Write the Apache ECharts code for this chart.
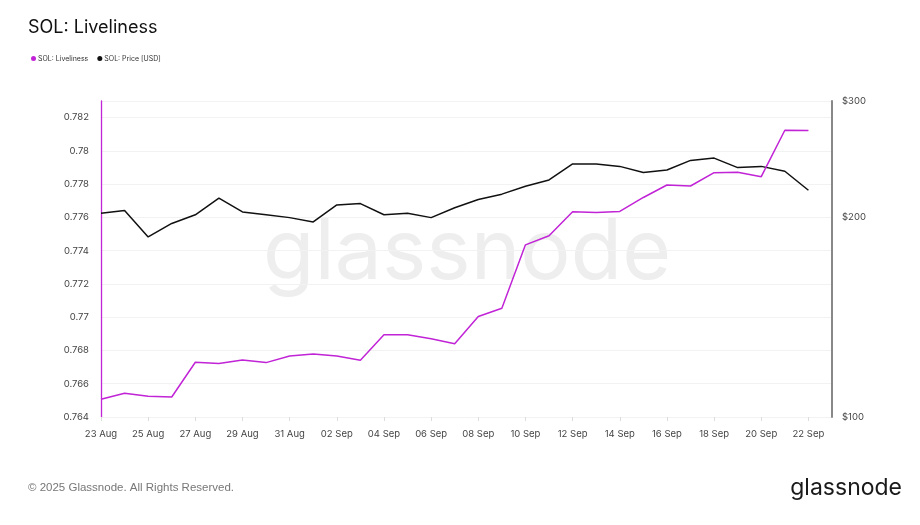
<!DOCTYPE html>
<html>
<head>
    <meta charset="utf-8">
    <title>SOL: Liveliness</title>
    <script src="https://cdn.jsdelivr.net/npm/echarts@6/dist/echarts.min.js"></script>
    <style>
        body { margin: 0; background: #fff; }
    </style>
</head>
<body>
    <div id="main" style="width: 920px;height:525px;"></div>
    <script type="text/javascript">
        // daily dates, plus one trailing empty slot so the axis runs past 22 Sep
        var dates = ['23 Aug', '24 Aug', '25 Aug', '26 Aug', '27 Aug', '28 Aug', '29 Aug', '30 Aug', '31 Aug',
            '01 Sep', '02 Sep', '03 Sep', '04 Sep', '05 Sep', '06 Sep', '07 Sep', '08 Sep', '09 Sep', '10 Sep',
            '11 Sep', '12 Sep', '13 Sep', '14 Sep', '15 Sep', '16 Sep', '17 Sep', '18 Sep', '19 Sep', '20 Sep',
            '21 Sep', '22 Sep', '23 Sep'];
        var liveliness = [0.76507, 0.76543, 0.76525, 0.76520, 0.76729, 0.76721, 0.76743, 0.76727, 0.76767,
            0.76779, 0.76767, 0.76741, 0.76894, 0.76895, 0.76871, 0.76841, 0.77004, 0.77054, 0.77435,
            0.77490, 0.77634, 0.77630, 0.77636, 0.77720, 0.77795, 0.77789, 0.77869, 0.77871, 0.77845,
            0.78124, 0.78122];
        var price = [203, 205, 187, 196, 202, 214, 204, 202, 200, 197, 209, 210, 202, 203, 200, 207,
            213, 217, 223, 228, 241, 241, 239, 234, 236, 244, 246, 238, 239, 235, 220];
        var priceTicks = [100, 200, 300];

        var magenta = '#c123d6';
        var font = 'Inter';

        var myChart = echarts.init(document.getElementById('main'));
        option = {
            backgroundColor: '#fff',
            textStyle: { fontFamily: font },
            animation: false,
            title: {
                text: 'SOL: Liveliness',
                left: 28,
                top: 19,
                padding: 0,
                textStyle: { fontSize: 18, fontWeight: 'normal', color: '#111', fontFamily: font }
            },
            legend: {
                left: 31,
                top: 55,
                padding: 0,
                itemWidth: 5,
                itemHeight: 5,
                itemGap: 9,
                icon: 'circle',
                textStyle: { fontSize: 7, color: '#333', padding: [0, 0, 0, -3] },
                data: ['SOL: Liveliness', 'SOL: Price [USD]']
            },
            graphic: [{
                type: 'text',
                left: 263,
                top: 212,
                z: -1,
                style: { text: 'glassnode', fontSize: 84, fontFamily: font, fill: '#eeeeee' }
            }, {
                type: 'text',
                left: 28,
                top: 482,
                style: { text: '© 2025 Glassnode. All Rights Reserved.', fontSize: 11.5, fontFamily: 'Liberation Sans', fill: '#777' }
            }, {
                type: 'text',
                right: 18,
                top: 477,
                style: { text: 'glassnode', fontSize: 23, fontFamily: font, fill: '#1a1a1a' }
            }],
            grid: {
                left: 101,
                right: 88,
                top: 101,
                bottom: 108
            },
            xAxis: {
                type: 'category',
                data: dates,
                boundaryGap: false,
                axisLine: { show: false },
                axisTick: { show: true, interval: 1, length: 4, lineStyle: { color: '#ddd' } },
                axisLabel: { interval: 1, fontSize: 9.5, color: '#444', margin: 12 },
                splitLine: { show: false }
            },
            yAxis: [{
                type: 'value',
                min: 0.764,
                max: 0.783,
                interval: 0.002,
                position: 'left',
                axisLine: { show: true, onZero: false, lineStyle: { color: magenta, width: 1.3 } },
                axisTick: { show: false },
                axisLabel: { fontSize: 9.5, color: '#444', margin: 12, showMaxLabel: false },
                splitLine: { show: true, lineStyle: { color: '#f2f2f2' } }
            }, {
                type: 'log',
                min: 100,
                max: 300,
                position: 'right',
                axisLine: { show: true, onZero: false, lineStyle: { color: '#888', width: 2 } },
                axisTick: { show: false },
                axisLabel: {
                    customValues: priceTicks,
                    fontSize: 9.5,
                    color: '#444',
                    margin: 10,
                    formatter: function (v) { return '$' + Math.round(v); }
                },
                splitLine: { show: false }
            }],
            series: [{
                name: 'SOL: Liveliness',
                type: 'line',
                yAxisIndex: 0,
                data: liveliness,
                symbol: 'none',
                color: magenta,
                lineStyle: { width: 1.5, color: magenta },
                z: 3
            }, {
                name: 'SOL: Price [USD]',
                type: 'line',
                yAxisIndex: 1,
                data: price,
                symbol: 'none',
                color: '#111',
                lineStyle: { width: 1.5, color: '#111' },
                z: 2
            }]
        };

        myChart.setOption(option);
    </script>
</body>
</html>
